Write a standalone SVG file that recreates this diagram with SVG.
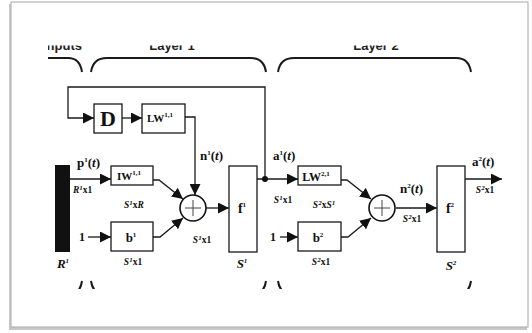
<svg xmlns="http://www.w3.org/2000/svg" width="532" height="333" viewBox="0 0 532 333">
<style>
.ln{fill:none;stroke:#1a1a1a;stroke-width:1.3}
.br{fill:none;stroke:#1a1a1a;stroke-width:2}
.bx{fill:#fff;stroke:#1a1a1a;stroke-width:1.3}
.t{font-family:"Liberation Serif",serif;font-weight:bold;fill:#111}
.ti{font-family:"Liberation Serif",serif;font-weight:bold;font-style:italic;fill:#111}
.hd{font-family:"Liberation Sans",Arial,sans-serif;font-weight:bold;font-size:13px;fill:#222}
.sm{font-size:9.5px}
.sup{font-size:7px}
</style>
<defs>
<marker id="ah" markerUnits="userSpaceOnUse" markerWidth="11" markerHeight="11" refX="11" refY="5.5" orient="auto"><path d="M0,0 L11,5.5 L0,11 z" fill="#111"/></marker>
<clipPath id="cp"><rect x="48" y="45.5" width="470" height="243.5"/></clipPath>
</defs>
<g id="frame">
<rect x="9" y="4" width="518" height="326" fill="#c8c8c8"/>
<rect x="11" y="2" width="517" height="325" fill="#fff" stroke="#b5b5b5" stroke-width="1.2"/>
</g>
<g clip-path="url(#cp)">
<g id="headers">
<text class="hd" x="82" y="50" text-anchor="end">Inputs</text>
<text class="hd" x="172" y="50" text-anchor="middle">Layer 1</text>
<text class="hd" x="376" y="50" text-anchor="middle">Layer 2</text>
</g>
<g id="braces">
<path class="br" d="M40,58 L68,58 Q80,58 82,72"/>
<path class="br" d="M91,72 Q93,58 107,58 L251,58 Q264,58 266,72"/>
<path class="br" d="M278,72 Q280,58 294,58 L456,58 Q469,58 471,72"/>
<path class="br" d="M40,295 L68,295 Q80,295 82,281"/>
<path class="br" d="M91,281 Q93,295 107,295 L251,295 Q264,295 266,281"/>
<path class="br" d="M278,281 Q280,295 294,295 L456,295 Q469,295 471,281"/>
</g>
</g>
<g id="connectors">
<path class="ln" d="M265,179 L265,87 L68,87 L68,118 L94,118" marker-end="url(#ah)"/>
<path class="ln" d="M122,118 L142,118" marker-end="url(#ah)"/>
<path class="ln" d="M185,117 L195,117 L195,195" marker-end="url(#ah)"/>
<path class="ln" d="M70,179 L111,179" marker-end="url(#ah)"/>
<path class="ln" d="M153,180 L159,180 L183,199" marker-end="url(#ah)"/>
<path class="ln" d="M88,237 L111,237" marker-end="url(#ah)"/>
<path class="ln" d="M153,237 L160,237 L183,218" marker-end="url(#ah)"/>
<path class="ln" d="M206,208 L229,208" marker-end="url(#ah)"/>
<path class="ln" d="M257,179 L298,179" marker-end="url(#ah)"/>
<circle cx="265" cy="179" r="3" fill="#111"/>
<path class="ln" d="M341,180 L347,180 L371,199" marker-end="url(#ah)"/>
<path class="ln" d="M280,237 L298,237" marker-end="url(#ah)"/>
<path class="ln" d="M341,237 L348,237 L371,218" marker-end="url(#ah)"/>
<path class="ln" d="M396,208 L437,208" marker-end="url(#ah)"/>
<path class="ln" d="M465,179 L502,179" marker-end="url(#ah)"/>
</g>
<g id="input">
<rect x="55" y="165" width="15" height="87" fill="#111"/>
<text class="ti" x="63" y="268" font-size="13" text-anchor="middle">R<tspan class="sup" dy="-5">1</tspan></text>
<text class="t" x="77" y="167" font-size="13">p<tspan class="sup" dy="-5">1</tspan><tspan dy="5">(</tspan><tspan font-style="italic">t</tspan>)</text>
<text class="ti sm" x="73" y="193"><tspan>R</tspan><tspan class="sup" dy="-3">1</tspan><tspan dy="3" font-style="normal">x1</tspan></text>
</g>
<g id="delay">
<rect class="bx" x="94" y="104" width="28" height="29"/>
<text class="t" x="108" y="126" font-size="22" text-anchor="middle">D</text>
</g>
<g id="lw11">
<rect class="bx" x="142" y="104" width="43" height="29"/>
<text class="t" x="160" y="122" font-size="11" text-anchor="middle">LW<tspan class="sup" dy="-5">1,1</tspan></text>
<text class="t" x="200" y="160" font-size="13">n<tspan class="sup" dy="-5">1</tspan><tspan dy="5">(</tspan><tspan font-style="italic">t</tspan>)</text>
</g>
<g id="iw11">
<rect class="bx" x="111" y="166" width="42" height="19"/>
<text class="t" x="129" y="180" font-size="11" text-anchor="middle">IW<tspan class="sup" dy="-5">1,1</tspan></text>
<text class="ti sm" x="134" y="208" text-anchor="middle">S<tspan class="sup" dy="-3">1</tspan><tspan dy="3" font-style="normal">x</tspan>R</text>
</g>
<g id="bias1">
<text class="t" x="82" y="241" font-size="12" text-anchor="middle">1</text>
<rect class="bx" x="111" y="222" width="42" height="29"/>
<text class="t" x="131" y="242" font-size="13" text-anchor="middle">b<tspan class="sup" dy="-5">1</tspan></text>
<text class="ti sm" x="133" y="265" text-anchor="middle">S<tspan class="sup" dy="-3">1</tspan><tspan dy="3" font-style="normal">x1</tspan></text>
</g>
<g id="sum1">
<circle cx="193" cy="208" r="13" fill="#fff" stroke="#111" stroke-width="1.6"/>
<path d="M185,208 L201,208 M193,200 L193,216" stroke="#444" stroke-width="1"/>
<text class="ti sm" x="202" y="243" text-anchor="middle">S<tspan class="sup" dy="-3">1</tspan><tspan dy="3" font-style="normal">x1</tspan></text>
</g>
<g id="f1">
<rect class="bx" x="229" y="166" width="28" height="86"/>
<text class="t" x="242" y="213" font-size="14" text-anchor="middle">f<tspan class="sup" dy="-6">1</tspan></text>
<text class="ti" x="242" y="268" font-size="13" text-anchor="middle">S<tspan class="sup" dy="-5">1</tspan></text>
</g>
<g id="lw21">
<text class="t" x="273" y="160" font-size="13">a<tspan class="sup" dy="-5">1</tspan><tspan dy="5">(</tspan><tspan font-style="italic">t</tspan>)</text>
<text class="ti sm" x="283" y="203" text-anchor="middle">S<tspan class="sup" dy="-3">1</tspan><tspan dy="3" font-style="normal">x1</tspan></text>
<rect class="bx" x="298" y="166" width="43" height="19"/>
<text class="t" x="316" y="181" font-size="12" text-anchor="middle">LW<tspan class="sup" dy="-5">2,1</tspan></text>
<text class="ti sm" x="324" y="208" text-anchor="middle">S<tspan class="sup" dy="-3">2</tspan><tspan dy="3" font-style="normal">x</tspan>S<tspan class="sup" dy="-3">1</tspan></text>
</g>
<g id="bias2">
<text class="t" x="273" y="241" font-size="12" text-anchor="middle">1</text>
<rect class="bx" x="298" y="222" width="43" height="29"/>
<text class="t" x="318" y="242" font-size="13" text-anchor="middle">b<tspan class="sup" dy="-5">2</tspan></text>
<text class="ti sm" x="321" y="265" text-anchor="middle">S<tspan class="sup" dy="-3">2</tspan><tspan dy="3" font-style="normal">x1</tspan></text>
</g>
<g id="sum2">
<circle cx="382" cy="208" r="13" fill="#fff" stroke="#111" stroke-width="1.6"/>
<path d="M374,208 L390,208 M382,200 L382,216" stroke="#444" stroke-width="1"/>
<text class="t" x="400" y="193" font-size="13">n<tspan class="sup" dy="-5">2</tspan><tspan dy="5">(</tspan><tspan font-style="italic">t</tspan>)</text>
<text class="ti sm" x="412" y="222" text-anchor="middle">S<tspan class="sup" dy="-3">2</tspan><tspan dy="3" font-style="normal">x1</tspan></text>
</g>
<g id="f2">
<rect class="bx" x="437" y="166" width="28" height="86"/>
<text class="t" x="450" y="213" font-size="14" text-anchor="middle">f<tspan class="sup" dy="-6">2</tspan></text>
<text class="ti" x="451" y="270" font-size="13" text-anchor="middle">S<tspan class="sup" dy="-5">2</tspan></text>
<text class="t" x="472" y="166" font-size="13">a<tspan class="sup" dy="-5">2</tspan><tspan dy="5">(</tspan><tspan font-style="italic">t</tspan>)</text>
<text class="ti sm" x="485" y="193" text-anchor="middle">S<tspan class="sup" dy="-3">2</tspan><tspan dy="3" font-style="normal">x1</tspan></text>
</g>
</svg>
